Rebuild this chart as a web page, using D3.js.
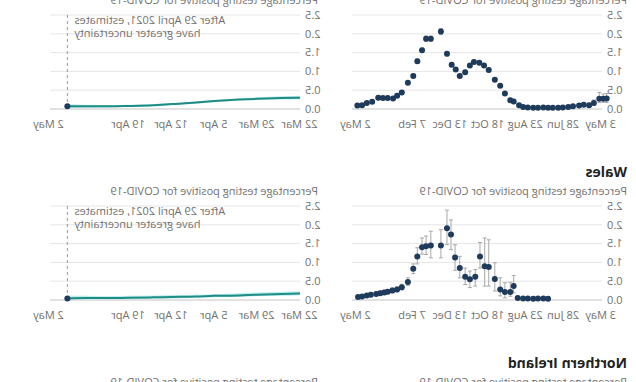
<!DOCTYPE html>
<html>
<head>
<meta charset="utf-8">
<script src="https://cdn.jsdelivr.net/npm/d3@7"></script>
<style>
body { margin: 0; background: #fff; }
svg { display: block; font-family: "Open Sans", sans-serif; }
</style>
</head>
<body>
<svg id="chart" width="636" height="382"></svg>
<script>
// England, survey estimates (dots + 95% CI)
var engDates = ["2020-04-25","2020-04-30","2020-05-06","2020-05-14","2020-05-21","2020-05-29","2020-06-05","2020-06-14","2020-06-21","2020-06-29","2020-07-06","2020-07-14","2020-07-21","2020-07-28","2020-08-05","2020-08-12","2020-08-20","2020-08-27","2020-09-02","2020-09-10","2020-09-15","2020-09-23","2020-09-30","2020-10-08","2020-10-17","2020-10-24","2020-10-31","2020-11-08","2020-11-14","2020-11-21","2020-11-29","2020-12-05","2020-12-11","2020-12-18","2020-12-27","2021-01-11","2021-01-18","2021-01-24","2021-01-31","2021-02-06","2021-02-14","2021-02-23","2021-03-02","2021-03-08","2021-03-16","2021-03-23","2021-03-30","2021-04-08","2021-04-16","2021-04-23","2021-04-30"];
var engVal = [0.28,0.27,0.27,0.16,0.10,0.11,0.09,0.07,0.05,0.04,0.03,0.03,0.03,0.04,0.03,0.03,0.04,0.05,0.10,0.20,0.23,0.41,0.62,0.78,1.04,1.16,1.23,1.25,1.16,0.98,0.88,1.05,1.18,1.47,2.06,1.87,1.87,1.56,1.27,0.88,0.70,0.44,0.35,0.28,0.29,0.29,0.30,0.19,0.16,0.10,0.09];
var engLo = [0.17,0.18,0.17,0.10,0.06,0.07,0.05,0.04,0.03,0.02,0.02,0.02,0.02,0.02,0.02,0.02,0.02,0.03,0.08,0.17,0.20,0.37,0.58,0.74,0.99,1.11,1.18,1.20,1.11,0.93,0.83,1.00,1.12,1.41,1.98,1.80,1.80,1.50,1.21,0.83,0.65,0.40,0.31,0.25,0.25,0.25,0.26,0.16,0.13,0.07,0.06];
var engHi = [0.41,0.40,0.44,0.24,0.15,0.16,0.13,0.10,0.08,0.06,0.05,0.05,0.05,0.06,0.05,0.05,0.06,0.07,0.13,0.24,0.27,0.45,0.67,0.83,1.09,1.21,1.28,1.30,1.21,1.03,0.93,1.10,1.24,1.53,2.14,1.94,1.94,1.62,1.33,0.93,0.75,0.48,0.39,0.32,0.33,0.33,0.35,0.23,0.20,0.13,0.12];

// Wales, survey estimates
var walDates = ["2020-07-21","2020-07-28","2020-08-05","2020-08-12","2020-08-20","2020-08-27","2020-09-04","2020-09-10","2020-09-15","2020-09-23","2020-09-30","2020-10-08","2020-10-17","2020-10-23","2020-10-30","2020-11-06","2020-11-14","2020-11-21","2020-11-29","2020-12-06","2020-12-12","2020-12-18","2020-12-27","2021-01-11","2021-01-18","2021-01-24","2021-01-31","2021-02-06","2021-02-14","2021-02-23","2021-03-02","2021-03-09","2021-03-16","2021-03-21","2021-03-27","2021-04-02","2021-04-10","2021-04-16","2021-04-23","2021-04-29"];
var walVal = [0.03,0.04,0.04,0.03,0.04,0.04,0.05,0.37,0.21,0.21,0.28,0.56,0.88,0.90,1.16,0.62,0.55,0.62,0.85,1.13,1.74,1.91,1.45,1.45,1.43,1.40,1.16,0.83,0.48,0.34,0.28,0.25,0.22,0.20,0.18,0.16,0.14,0.12,0.09,0.08];
var walLo = [0.01,0.01,0.01,0.01,0.01,0.01,0.02,0.19,0.10,0.06,0.11,0.24,0.37,0.37,0.85,0.37,0.33,0.41,0.59,0.79,1.34,1.47,1.12,1.12,1.21,1.22,0.96,0.70,0.39,0.27,0.22,0.19,0.17,0.15,0.13,0.12,0.10,0.08,0.06,0.05];
var walHi = [0.08,0.09,0.08,0.08,0.09,0.09,0.10,0.65,0.47,0.46,0.59,0.99,1.60,1.65,1.53,0.81,0.77,0.85,1.16,1.47,2.13,2.39,1.87,1.83,1.70,1.65,1.39,0.96,0.59,0.42,0.35,0.32,0.28,0.26,0.24,0.21,0.19,0.17,0.13,0.12];

// modelled daily estimates (line + credible interval)
var modelDates = ["2021-03-22","2021-03-25","2021-03-29","2021-04-01","2021-04-05","2021-04-08","2021-04-12","2021-04-15","2021-04-19","2021-04-22","2021-04-26","2021-04-29"];
var engModel = [0.30,0.29,0.27,0.25,0.21,0.17,0.13,0.10,0.08,0.07,0.07,0.07];
var engModelLo = [0.26,0.25,0.24,0.22,0.18,0.14,0.10,0.07,0.05,0.04,0.03,0.02];
var engModelHi = [0.35,0.34,0.31,0.28,0.24,0.20,0.16,0.13,0.11,0.10,0.11,0.13];
var walModel = [0.17,0.16,0.14,0.12,0.11,0.09,0.08,0.07,0.06,0.05,0.05,0.04];
var walModelLo = [0.12,0.11,0.10,0.08,0.07,0.06,0.04,0.03,0.02,0.02,0.01,0.01];
var walModelHi = [0.23,0.22,0.20,0.18,0.16,0.14,0.13,0.12,0.11,0.10,0.11,0.12];

var yTicks = [0, 0.5, 1, 1.5, 2, 2.5];
var surveyTicks = ["2020-05-03","2020-06-28","2020-08-23","2020-10-18","2020-12-13","2021-02-07","2021-05-02"];
var modelTicks = ["2021-03-22","2021-03-29","2021-04-05","2021-04-12","2021-04-19","2021-05-02"];
var cutoff = "2021-04-29";
var subtitle = "Percentage testing positive for COVID-19";
var noteLines = ["After 29 April 2021, estimates", "have greater uncertainty"];

var parse = d3.timeParse("%Y-%m-%d");
var fmt = d3.timeFormat("%-d %b");
var dotColor = "#1f3b5c", lineColor = "#1f8c86", bandColor = "#bdeeee", grey = "#707070";
var rowH = 191;

var svg = d3.select("#chart");
// the picture is a mirror image, so the whole drawing is flipped
var root = svg.append("g").attr("transform", "translate(636,0) scale(-1,1)");

var xSurvey = d3.scaleTime().domain([parse("2020-04-26"), parse("2021-05-02")]).range([30, 280]);
var xModel = d3.scaleTime().domain([parse("2021-03-22"), parse("2021-05-02")]).range([336, 587]);

function frame(row, col, x, ticks) {
    var dy = row * rowH;
    var left = col == 0 ? 34 : 336, right = col == 0 ? 284 : 586;
    var y = d3.scaleLinear().domain([0, 2.5]).range([109 + dy, 15 + dy]);
    var g = root.append("g");

    g.append("text")
        .attr("x", col == 0 ? 9 : 318).attr("y", 4 + dy)
        .attr("fill", grey).style("font-size", "11px")
        .text(subtitle);

    g.selectAll("line.grid").data(yTicks).enter().append("line")
        .attr("class", "grid")
        .attr("x1", left).attr("x2", right)
        .attr("y1", function(d) { return y(d); })
        .attr("y2", function(d) { return y(d); })
        .attr("stroke", function(d) { return d == 0 ? "#c4c4c4" : "#e6e6e6"; });

    g.selectAll("text.ylab").data(yTicks).enter().append("text")
        .attr("class", "ylab")
        .attr("x", left - 5).attr("y", function(d) { return y(d); })
        .attr("dy", "0.35em").attr("text-anchor", "end")
        .attr("fill", grey).style("font-size", "11px")
        .text(d3.format(".1f"));

    var ax = g.append("g")
        .attr("transform", "translate(0," + (109 + dy) + ")")
        .call(d3.axisBottom(x).tickValues(ticks.map(parse)).tickFormat(fmt).tickSize(0).tickPadding(11));
    ax.select(".domain").remove();
    ax.attr("font-family", null).attr("font-size", null);
    ax.selectAll("text").attr("fill", grey).style("font-size", "11px");

    return { g: g, y: y };
}

function survey(row, dates, val, lo, hi) {
    var f = frame(row, 0, xSurvey, surveyTicks);
    var pts = dates.map(function(d, i) { return { date: parse(d), v: val[i], lo: lo[i], hi: hi[i] }; });
    var y = f.y;
    var eb = f.g.selectAll("g.eb").data(pts).enter().append("g").attr("class", "eb")
        .attr("stroke", "#a8a8a8").attr("stroke-width", 1);
    eb.append("line")
        .attr("x1", function(d) { return xSurvey(d.date); })
        .attr("x2", function(d) { return xSurvey(d.date); })
        .attr("y1", function(d) { return y(d.lo); })
        .attr("y2", function(d) { return y(d.hi); });
    eb.append("line")
        .attr("x1", function(d) { return xSurvey(d.date) - 2; })
        .attr("x2", function(d) { return xSurvey(d.date) + 2; })
        .attr("y1", function(d) { return y(d.hi); })
        .attr("y2", function(d) { return y(d.hi); });
    eb.append("line")
        .attr("x1", function(d) { return xSurvey(d.date) - 2; })
        .attr("x2", function(d) { return xSurvey(d.date) + 2; })
        .attr("y1", function(d) { return y(d.lo); })
        .attr("y2", function(d) { return y(d.lo); });
    f.g.selectAll("circle.dot").data(pts).enter().append("circle")
        .attr("class", "dot")
        .attr("cx", function(d) { return xSurvey(d.date); })
        .attr("cy", function(d) { return y(d.v); })
        .attr("r", 3)
        .attr("fill", dotColor);
}

function model(row, val, lo, hi) {
    var f = frame(row, 1, xModel, modelTicks);
    var y = f.y, dy = row * rowH;
    var pts = modelDates.map(function(d, i) { return { date: parse(d), v: val[i], lo: lo[i], hi: hi[i] }; });

    f.g.append("path").datum(pts)
        .attr("fill", bandColor)
        .attr("d", d3.area().curve(d3.curveMonotoneX)
            .x(function(d) { return xModel(d.date); })
            .y0(function(d) { return y(d.lo); })
            .y1(function(d) { return y(d.hi); }));
    f.g.append("path").datum(pts)
        .attr("fill", "none").attr("stroke", lineColor).attr("stroke-width", 2)
        .attr("d", d3.line().curve(d3.curveMonotoneX)
            .x(function(d) { return xModel(d.date); })
            .y(function(d) { return y(d.v); }));

    var cx = xModel(parse(cutoff));
    f.g.append("line")
        .attr("x1", cx).attr("x2", cx).attr("y1", y(2.5)).attr("y2", y(0))
        .attr("stroke", "#9a9a9a").attr("stroke-dasharray", "3,3");
    f.g.append("circle")
        .attr("cx", xModel(pts[pts.length - 1].date)).attr("cy", y(pts[pts.length - 1].v))
        .attr("r", 3).attr("fill", dotColor);

    f.g.selectAll("text.note").data(noteLines).enter().append("text")
        .attr("class", "note")
        .attr("x", cx - 7).attr("y", function(d, i) { return 24 + dy + i * 13; })
        .attr("text-anchor", "end").attr("fill", grey).style("font-size", "11px")
        .text(function(d) { return d; });
}

survey(0, engDates, engVal, engLo, engHi);
model(0, engModel, engModelLo, engModelHi);

root.append("text").attr("x", 9).attr("y", 177)
    .attr("fill", "#222").style("font-size", "14px").style("font-weight", "bold")
    .text("Wales");
survey(1, walDates, walVal, walLo, walHi);
model(1, walModel, walModelLo, walModelHi);

root.append("text").attr("x", 9).attr("y", 368)
    .attr("fill", "#222").style("font-size", "14px").style("font-weight", "bold")
    .text("Northern Ireland");
root.append("text").attr("x", 9).attr("y", 386).attr("fill", grey).style("font-size", "11px").text(subtitle);
root.append("text").attr("x", 318).attr("y", 386).attr("fill", grey).style("font-size", "11px").text(subtitle);
</script>
</body>
</html>
